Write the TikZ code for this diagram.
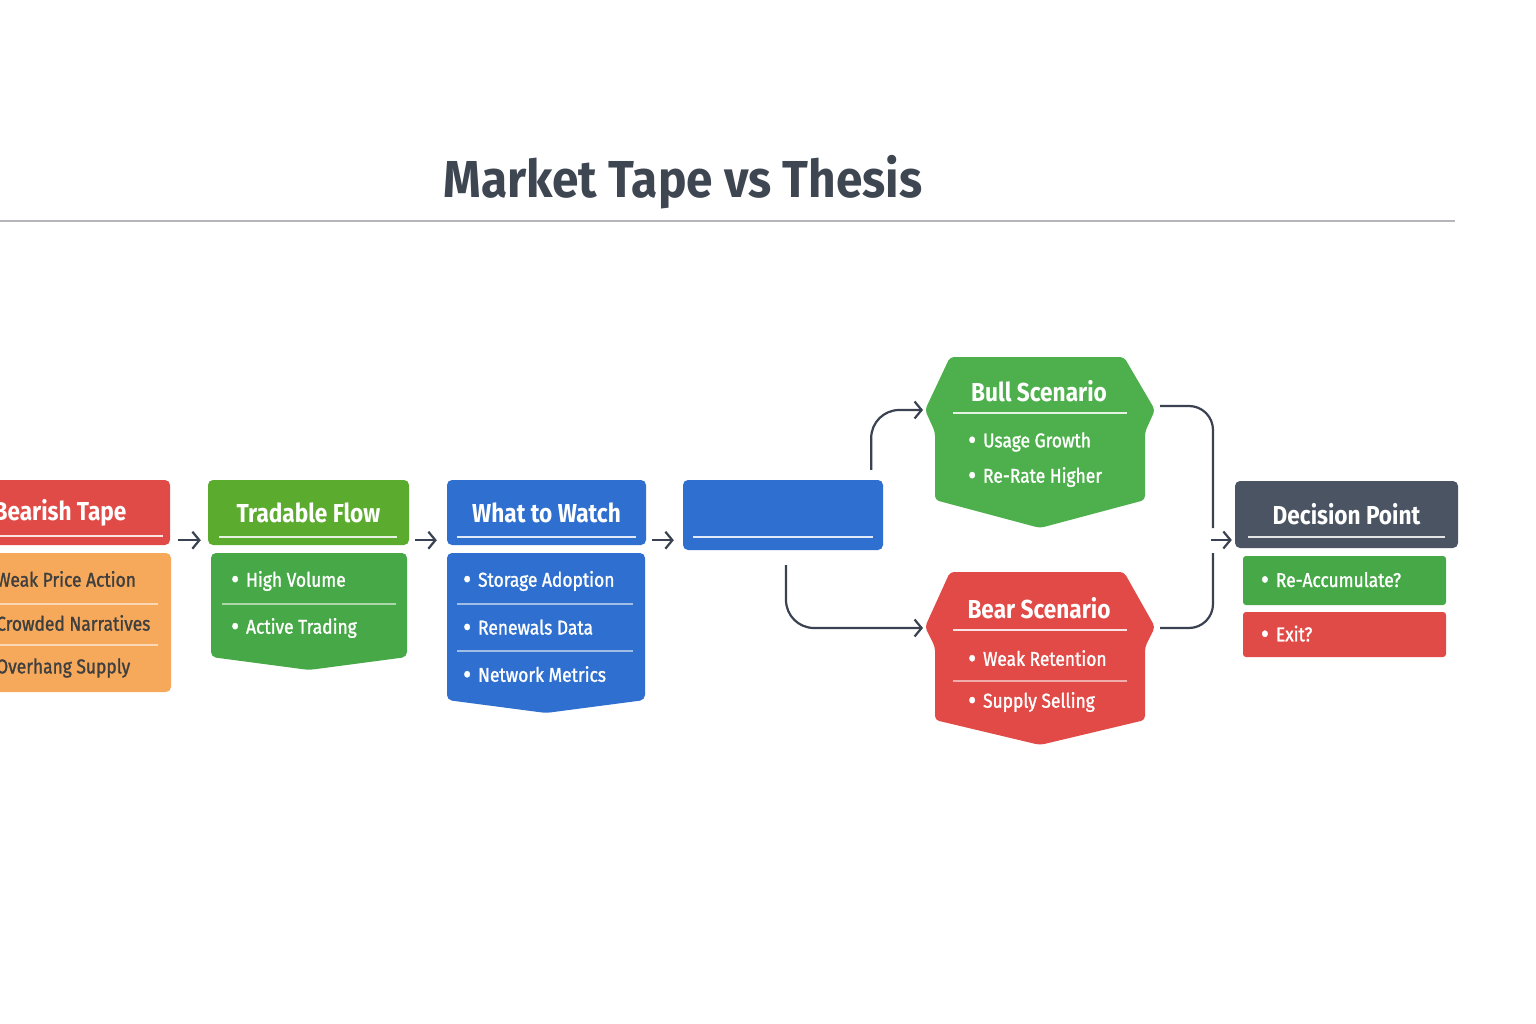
\documentclass[tikz,border=0pt]{standalone}
\usepackage{fontspec}
\usepackage{graphicx}
\setmainfont{Fira Sans}[FakeStretch=0.87]
\newfontfamily\medfont{Fira Sans}[FakeStretch=0.87, FakeBold=1.3]
\newfontfamily\titlefont{Fira Sans}[FakeStretch=0.92]
\usetikzlibrary{arrows.meta}

\definecolor{tapeRed}{HTML}{E14B47}
\definecolor{tapeOrange}{HTML}{F6A95B}
\definecolor{flowLime}{HTML}{5BAB2E}
\definecolor{flowGreen}{HTML}{46A846}
\definecolor{watchBlue}{HTML}{2F6FD0}
\definecolor{bullGreen}{HTML}{4DB04C}
\definecolor{bearRed}{HTML}{E14A46}
\definecolor{slate}{HTML}{4A5462}
\definecolor{ink}{HTML}{3A4150}
\definecolor{titleInk}{HTML}{3E4652}
\definecolor{listInk}{HTML}{3F3F3F}
\definecolor{ruleGray}{HTML}{B4B6BA}

\newcommand\dotmark{\raisebox{-2pt}{\scalebox{1.4}{\textbullet}}\hspace{7pt}}

\begin{document}
\begin{tikzpicture}[
  x=1pt, y=-1pt,
  font=\medfont\fontsize{20}{24}\selectfont,
  hdr/.style={
    rounded corners=5pt, inner sep=0pt, minimum width=201pt,
    minimum height=65pt, text=white,
    font=\rmfamily\fontsize{26}{30}\selectfont\bfseries,
  },
  scen/.style={inner sep=0pt, text=white, font=\rmfamily\fontsize{26}{30}\selectfont\bfseries},
  item/.style={anchor=west, inner sep=0pt, text=white},
  pick/.style={
    rounded corners=3pt, inner xsep=18pt, inner ysep=0pt, align=left,
    text width=167pt, text=white,
  },
  hline/.style={draw=white, line width=1.5pt, opacity=.85},
  sep/.style={draw=white, line width=1.2pt, opacity=.55},
  link/.style={draw=ink, line width=2.2pt, rounded corners=24pt},
  flow/.style={-{Straight Barb[length=7pt, width=17pt, line width=2.2pt]}, draw=ink, line width=2.2pt},
]
\useasboundingbox (0,0) rectangle (1536,1024);
\clip (0,0) rectangle (1536,1024);
\fill[white] (0,0) rectangle (1536,1024);

% ---- Title -----------------------------------------------------------------
\node[font=\titlefont\fontsize{52}{60}\selectfont\bfseries, text=titleInk] (title) at (683,182)
  {Market Tape vs Thesis};
\draw[ruleGray, line width=1.5pt] (0,221) -- (1455,221);

% ---- Bearish tape ------------------------------------------------------------
\node[hdr, fill=tapeRed, minimum width=220pt] (tape) at (60,512.5) {Bearish Tape};
\draw[hline] ([yshift=9pt]tape.south west) -- ([xshift=-7pt,yshift=9pt]tape.south east);
\fill[tapeOrange, rounded corners=5pt] (-58,553) rectangle (171,692);
\node[item, text=listInk] (weak)  at (-4,579) {Weak Price Action};
\node[item, text=listInk] (crowd) at (-4,623) {Crowded Narratives};
\node[item, text=listInk] (over)  at (-4,668) {Overhang Supply};
\draw[sep] (-58,604) -- (158,604);
\draw[sep] (-58,645) -- (158,645);

% ---- Tradable flow -----------------------------------------------------------
\node[hdr, fill=flowLime] (tflow) at (308.5,512.5) {Tradable Flow};
\draw[hline] ([xshift=11pt,yshift=8pt]tflow.south west) -- ([xshift=-12pt,yshift=8pt]tflow.south east);
\fill[flowGreen, rounded corners=5pt]
  (211,553) -- (407,553) -- (407,657) -- (309,670) -- (211,657) -- cycle;
\node[item] (volume)  at (231,581) {\dotmark High Volume};
\node[item] (trading) at (231,628) {\dotmark Active Trading};
\draw[sep] (222,604) -- (396,604);

% ---- What to watch -----------------------------------------------------------
\node[hdr, fill=watchBlue, minimum width=199pt] (watch) at (546.5,512.5) {What to Watch};
\draw[hline] ([xshift=10pt,yshift=8pt]watch.south west) -- ([xshift=-10pt,yshift=8pt]watch.south east);
\fill[watchBlue, rounded corners=5pt]
  (447,553) -- (645,553) -- (645,700) -- (546,713) -- (447,700) -- cycle;
\node[item] (storage)  at (463,581) {\dotmark Storage Adoption};
\node[item] (renewals) at (463,628) {\dotmark Renewals Data};
\node[item] (network)  at (463,675) {\dotmark Network Metrics};
\draw[sep] (457,604) -- (633,604);
\draw[sep] (457,651) -- (633,651);

% ---- Pending (blank) step ----------------------------------------------------
\node[hdr, fill=watchBlue, minimum width=200pt, minimum height=70pt] (pending) at (783,515) {};
\draw[hline] ([xshift=10pt,yshift=13pt]pending.south west) -- ([xshift=-10pt,yshift=13pt]pending.south east);

% ---- Bull scenario -----------------------------------------------------------
\fill[bullGreen, rounded corners=4pt]
  (950,357) -- (1124,357) -- (1155,410) -- (1145,432) -- (1145,500) -- (1040,528)
  -- (935,500) -- (935,432) -- (925,410) -- cycle;
\node[scen] (bull) at (1039,391) {Bull Scenario};
\draw[hline] (953,413) -- (1127,413);
\node[item] (usage)  at (968,442) {\dotmark Usage Growth};
\node[item] (rerate) at (968,477) {\dotmark Re-Rate Higher};
\coordinate (bullin)  at (923,410);
\coordinate (bullout) at (1160,406);

% ---- Bear scenario -----------------------------------------------------------
\fill[bearRed, rounded corners=4pt]
  (950,572) -- (1124,572) -- (1155,627) -- (1145,647) -- (1145,720) -- (1040,745)
  -- (935,720) -- (935,647) -- (925,627) -- cycle;
\node[scen] (bear) at (1039,608) {Bear Scenario};
\draw[hline] (953,630) -- (1127,630);
\node[item] (retention) at (968,659) {\dotmark Weak Retention};
\node[item] (selling)   at (968,702) {\dotmark Supply Selling};
\draw[sep] (953,681) -- (1127,681);
\coordinate (bearin)  at (923,628);
\coordinate (bearout) at (1160,628);

% ---- Decision point ----------------------------------------------------------
\node[hdr, fill=slate, minimum width=223pt, minimum height=67pt] (decide) at (1346.5,514.5) {Decision Point};
\draw[hline] ([xshift=13pt,yshift=11pt]decide.south west) -- ([xshift=-13pt,yshift=11pt]decide.south east);
\node[pick, fill=flowGreen, minimum height=49pt] (reacc) at (1344.5,580.5) {\dotmark Re-Accumulate?};
\node[pick, fill=tapeRed, minimum height=45pt] (exit) at (1344.5,634.5) {\dotmark Exit?};

% ---- Flows -------------------------------------------------------------------
\draw[flow] ([xshift=8pt,yshift=5pt]tape.south east) -- ([xshift=-7pt,yshift=5pt]tflow.south west);
\draw[flow] ([xshift=6pt,yshift=5pt]tflow.south east) -- ([xshift=-10pt,yshift=5pt]watch.south west);
\draw[flow] ([xshift=6pt,yshift=5pt]watch.south east) -- ([xshift=-9pt,yshift=10pt]pending.south west);

\coordinate (upfrom)   at ([xshift=-12pt,yshift=10pt]pending.north east);
\coordinate (downfrom) at ([xshift=3pt,yshift=-15pt]pending.south);
\draw[flow, rounded corners=28pt] (upfrom) |- (bullin);
\draw[flow, rounded corners=28pt] (downfrom) |- (bearin);

\coordinate (joinup)   at (1213,528);
\coordinate (joindown) at (1213,553);
\coordinate (joinmid)  at (1211,540);
\draw[link] (bullout) -| (joinup);
\draw[link] (bearout) -| (joindown);
\draw[flow] (joinmid) -- ([xshift=-3pt,yshift=-25.5pt]decide.west);

\end{tikzpicture}
\end{document}
